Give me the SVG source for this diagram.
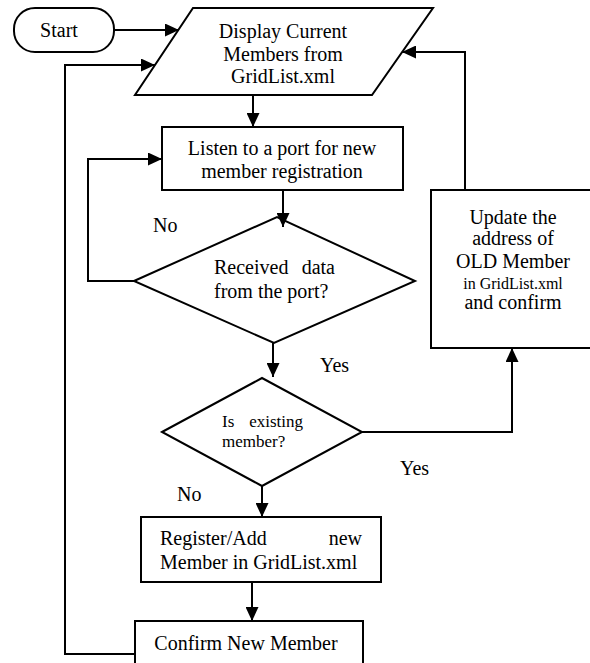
<svg xmlns="http://www.w3.org/2000/svg" width="590" height="663" viewBox="0 0 590 663">
  <defs>
    <marker id="arrow" markerUnits="userSpaceOnUse" markerWidth="14" markerHeight="13" refX="14" refY="6.5" orient="auto">
      <path d="M0,0 L14,6.5 L0,13 z" fill="#000"/>
    </marker>
    <style>
      .shape { fill: #fff; stroke: #000; stroke-width: 2; }
      .edge { fill: none; stroke: #000; stroke-width: 2; marker-end: url(#arrow); }
      text { font-family: "Liberation Serif", "Times New Roman", serif; font-size: 20px; fill: #000; }
      .c { text-anchor: middle; }
      .e { text-anchor: end; }
      .small { font-size: 17px; }
      .tiny { font-size: 16px; }
    </style>
  </defs>
  <rect width="590" height="663" fill="#fff"/>

  <g id="start">
    <rect class="shape" x="14" y="8" width="100" height="44" rx="21" ry="21"/>
    <text class="c" x="59" y="37">Start</text>
  </g>

  <g id="display-members">
    <polygon class="shape" points="193,8 433,8 372,95 135,95"/>
    <text class="c" x="283" y="38">Display Current</text>
    <text class="c" x="283" y="61">Members from</text>
    <text class="c" x="283" y="83">GridList.xml</text>
  </g>

  <g id="listen">
    <rect class="shape" x="162" y="127" width="241" height="63"/>
    <text class="c" x="282" y="155">Listen to a port for new</text>
    <text class="c" x="282" y="178">member registration</text>
  </g>

  <g id="received">
    <polygon class="shape" points="134,281 277,217 415,281 274,343"/>
    <text x="214" y="274">Received</text>
    <text class="e" x="335" y="274">data</text>
    <text x="214" y="298">from the port?</text>
  </g>

  <g id="existing">
    <polygon class="shape" points="162,432 262,378 362,432 262,486"/>
    <text class="small" x="222" y="427">Is</text>
    <text class="small e" x="303" y="427">existing</text>
    <text class="small" x="222" y="447">member?</text>
  </g>

  <g id="update">
    <rect class="shape" x="431" y="190" width="164" height="158"/>
    <text class="c" x="513" y="224">Update the</text>
    <text class="c" x="513" y="245">address of</text>
    <text class="c" x="513" y="268">OLD Member</text>
    <text class="c tiny" x="513" y="289">in GridList.xml</text>
    <text class="c" x="513" y="309">and confirm</text>
  </g>

  <g id="register">
    <rect class="shape" x="141" y="517" width="240" height="65"/>
    <text x="160" y="545">Register/Add</text>
    <text class="e" x="362" y="545">new</text>
    <text x="160" y="569">Member in GridList.xml</text>
  </g>

  <g id="confirm">
    <rect class="shape" x="135" y="621" width="228" height="50"/>
    <text class="c" x="246" y="650">Confirm New Member</text>
  </g>

  <!-- flow lines, drawn over the shapes so arrowheads stay visible -->
  <g id="connectors">
    <path class="edge" d="M114,30 H179"/>
    <path class="edge" d="M135,654 H65 V65 H155"/>
    <path class="edge" d="M465,190 V52 H402"/>
    <path class="edge" d="M253,95 V127"/>
    <path class="edge" d="M283,190 V227"/>
    <path class="edge" d="M134,281 H88 V159 H162"/>
    <path class="edge" d="M273,343 V377"/>
    <path class="edge" d="M362,432 H512 V348"/>
    <path class="edge" d="M262,486 V517"/>
    <path class="edge" d="M252,582 V621"/>
  </g>

  <g id="labels">
    <text x="153" y="232">No</text>
    <text x="320" y="372">Yes</text>
    <text x="400" y="475">Yes</text>
    <text x="177" y="501">No</text>
  </g>
</svg>
